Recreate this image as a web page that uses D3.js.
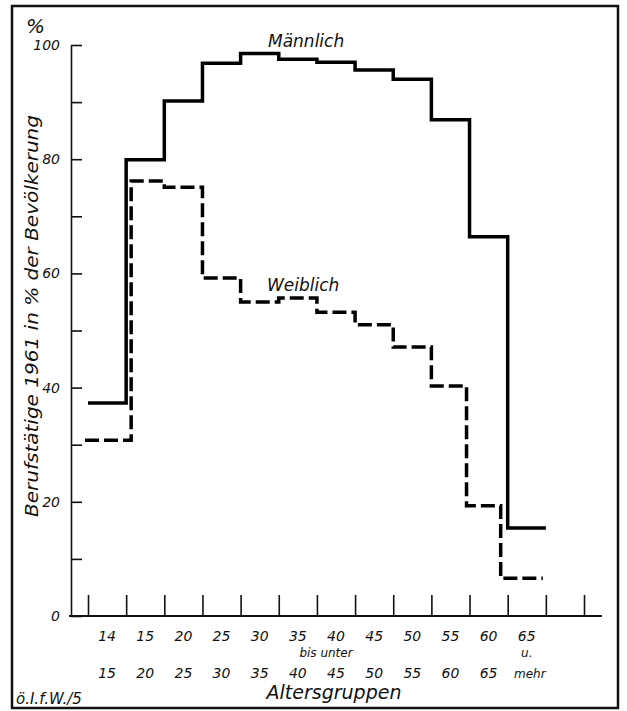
<!DOCTYPE html>
<html>
<head>
<meta charset="utf-8">
<script src="https://cdn.jsdelivr.net/npm/d3@7"></script>
<style>
  html, body { margin: 0; padding: 0; background: #fff; }
  svg { display: block; }
  text { font-family: "DejaVu Sans", sans-serif; font-style: italic; fill: #111; }
</style>
</head>
<body>
<script>
// ---- data ----
const ageGroupsFrom = ["14", "15", "20", "25", "30", "35", "40", "45", "50", "55", "60", "65"];
const ageGroupsTo   = ["15", "20", "25", "30", "35", "40", "45", "50", "55", "60", "65", "mehr"];
const maleValues    = [37.3, 79.9, 90.2, 96.8, 98.5, 97.5, 97.0, 95.6, 94.0, 86.9, 66.4, 15.4];
const femaleValues  = [30.8, 76.2, 75.1, 59.2, 55.0, 55.7, 53.2, 51.0, 47.1, 40.3, 19.3, 6.6];
const yTickValues   = [0, 10, 20, 30, 40, 50, 60, 70, 80, 90, 100];
const yLabelValues  = [0, 20, 40, 60, 80, 100];
const xTickCount    = 14;

// ---- layout ----
const W = 627, H = 711;
const svg = d3.select("body").append("svg").attr("width", W).attr("height", H);

const x = d3.scaleLinear().domain([0, 13]).range([88, 584]);
const y = d3.scaleLinear().domain([0, 100]).range([616, 45]);

// frame
svg.append("rect").attr("x", 12).attr("y", 6).attr("width", 606).attr("height", 702)
  .attr("fill", "none").attr("stroke", "#111").attr("stroke-width", 2.5);

// y axis
const yAxis = d3.axisLeft(y).tickValues(yTickValues).tickSize(-11).tickSizeOuter(0)
  .tickPadding(11)
  .tickFormat(d => yLabelValues.includes(d) ? d : "");
const gy = svg.append("g").attr("transform", "translate(71,0)").call(yAxis);
gy.selectAll("path, line").attr("stroke", "#111").attr("stroke-width", 1.6);
gy.selectAll("text").style("font-family", "DejaVu Sans").style("font-style", "italic")
  .style("font-size", "14px").attr("fill", "#111");

// x axis
const xAxis = d3.axisBottom(x).tickValues(d3.range(xTickCount)).tickSize(-21)
  .tickSizeOuter(0).tickFormat("");
const gx = svg.append("g").attr("transform", "translate(0,616)").call(xAxis);
gx.select(".domain").remove();
gx.selectAll("line").attr("stroke", "#111").attr("stroke-width", 1.6);
svg.append("line").attr("x1", 69).attr("x2", x.invert ? x(13.47) : 602)
  .attr("y1", 616).attr("y2", 616).attr("stroke", "#111").attr("stroke-width", 1.8);

// step lines
function stepPoints(vals, nudge) {
  const pts = [];
  vals.forEach((v, i) => {
    const x0 = x(i) + (nudge[i] || 0);
    const x1 = x(i + 1) + (nudge[i + 1] || 0);
    pts.push([x0, y(v)], [x1, y(v)]);
  });
  return pts;
}
const line = d3.line();
const maleNudge = {};
const femaleNudge = {0: -3, 1: 5, 10: -3, 11: -7, 12: -3};

svg.append("path").attr("d", line(stepPoints(maleValues, maleNudge)))
  .attr("fill", "none").attr("stroke", "#000").attr("stroke-width", 3.5)
  .attr("stroke-linejoin", "miter");
svg.append("path").attr("d", line(stepPoints(femaleValues, femaleNudge)))
  .attr("fill", "none").attr("stroke", "#000").attr("stroke-width", 3.5)
  .attr("stroke-dasharray", "14,5");

// series labels
svg.append("text").attr("x", 268).attr("y", 47).attr("font-size", 17).text("Männlich");
svg.append("text").attr("x", 267).attr("y", 291).attr("font-size", 17).text("Weiblich");

// x labels
svg.append("g").selectAll("text").data(ageGroupsFrom).join("text")
  .attr("x", (d, i) => x(i + 0.5)).attr("y", 641).attr("text-anchor", "middle")
  .attr("font-size", 14).text(d => d);
svg.append("g").selectAll("text").data(ageGroupsTo).join("text")
  .attr("x", (d, i) => x(i + 0.5) + (d === "mehr" ? 3 : 0)).attr("y", 678).attr("text-anchor", "middle")
  .attr("font-size", d => d === "mehr" ? 12 : 14).text(d => d);
svg.append("text").attr("x", 326).attr("y", 657).attr("text-anchor", "middle")
  .attr("font-size", 12).text("bis unter");
svg.append("text").attr("x", x(11.5)).attr("y", 657).attr("text-anchor", "middle")
  .attr("font-size", 12).text("u.");

// axis titles
svg.append("text").attr("x", 334).attr("y", 699).attr("text-anchor", "middle")
  .attr("font-size", 19).text("Altersgruppen");
svg.append("text")
  .attr("transform", "translate(38,316) rotate(-90)")
  .attr("text-anchor", "middle").attr("font-size", 18)
  .attr("textLength", 402).attr("lengthAdjust", "spacingAndGlyphs")
  .text("Berufstätige 1961 in % der Bevölkerung");
svg.append("text").attr("x", 26).attr("y", 33).attr("font-size", 20).text("%");
svg.append("text").attr("x", 16).attr("y", 704).attr("font-size", 15).text("ö.I.f.W./5");
</script>
</body>
</html>
